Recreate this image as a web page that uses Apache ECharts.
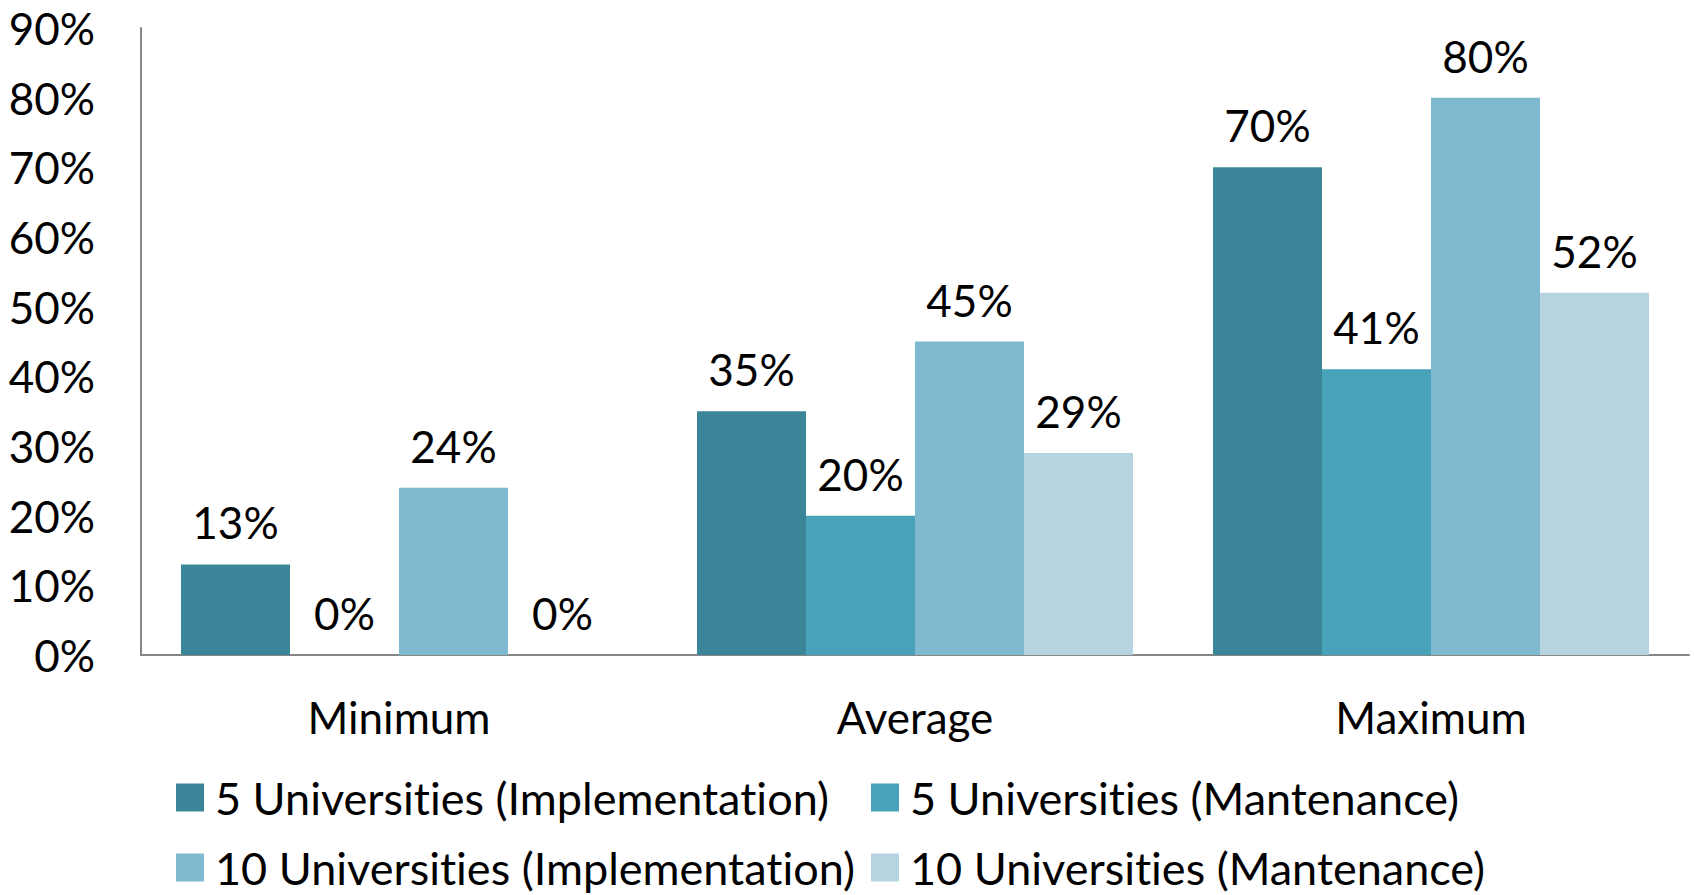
<!DOCTYPE html>
<html>
<head>
<meta charset="utf-8">
<script src="https://cdn.jsdelivr.net/npm/echarts@6/dist/echarts.min.js"></script>
<style>
html,body{margin:0;padding:0;background:#fff;}
#chart{width:1694px;height:895px;font-variant-ligatures:none;font-feature-settings:"liga" 0, "clig" 0;}
#chart text{font-variant-ligatures:none;font-feature-settings:"liga" 0, "clig" 0;}
</style>
</head>
<body>
<div id="chart"></div>
<script>
var categories = ['Minimum', 'Average', 'Maximum'];
var seriesNames = ['5 Universities (Implementation)', '5 Universities (Mantenance)', '10 Universities (Implementation)', '10 Universities (Mantenance)'];
var uni5Impl = [13, 35, 70];
var uni5Maint = [0, 20, 41];
var uni10Impl = [24, 45, 80];
var uni10Maint = [0, 29, 52];
var yTicks = [0, 10, 20, 30, 40, 50, 60, 70, 80, 90];

var colors = ['#3A8598', '#48A2B9', '#7FB9CF', '#B6D4E0'];
var FONT = 'Lato';
var FS = 44;

var chart = echarts.init(document.getElementById('chart'), null, { renderer: 'svg' });
var values = [uni5Impl, uni5Maint, uni10Impl, uni10Maint];

var legendText = { fontFamily: FONT, fontSize: 45, color: '#000', padding: [0, 0, 0, 6] };
var legendPos = [[176, 775], [871, 775], [176, 845], [871, 845]];

chart.setOption({
  animation: false,
  color: colors,
  grid: { left: 141, right: 5, top: 28, bottom: 240, containLabel: false },
  legend: seriesNames.map(function (n, i) {
    return {
      data: [n], left: legendPos[i][0], top: legendPos[i][1], padding: 0,
      itemWidth: 28, itemHeight: 28, icon: 'rect', textStyle: legendText
    };
  }),
  xAxis: {
    type: 'category',
    data: categories,
    axisLine: { show: true, lineStyle: { color: '#868686', width: 2 } },
    axisTick: { show: false },
    axisLabel: { fontFamily: FONT, fontSize: FS, color: '#000', margin: 40 }
  },
  yAxis: {
    type: 'value',
    min: yTicks[0],
    max: yTicks[yTicks.length - 1],
    interval: 10,
    splitLine: { show: false },
    axisLine: { show: true, lineStyle: { color: '#868686', width: 2 } },
    axisTick: { show: false },
    axisLabel: { fontFamily: FONT, fontSize: FS, color: '#000', margin: 46, formatter: '{value}%' }
  },
  series: values.map(function (v, i) {
    return {
      name: seriesNames[i],
      type: 'bar',
      data: v,
      barGap: '0%',
      barCategoryGap: '15.5%',
      itemStyle: { color: colors[i] },
      label: { show: true, position: 'top', distance: 20, fontFamily: FONT, fontSize: FS, color: '#000', formatter: '{c}%' }
    };
  })
});
</script>
</body>
</html>
